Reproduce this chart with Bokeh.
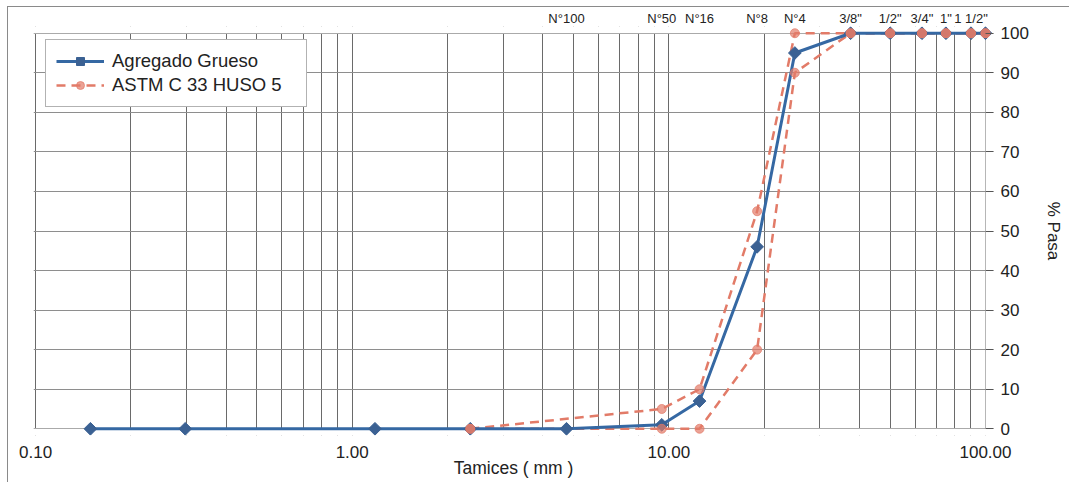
import math
from bokeh.plotting import figure
from bokeh.models import (Range1d, FixedTicker, NumeralTickFormatter, LogAxis,
                          Legend, LegendItem, BoxAnnotation)
from bokeh.embed import file_html
from bokeh.resources import INLINE

# ---- data ----
sieve_mm = [0.149, 0.297, 1.18, 2.36, 4.75, 9.5, 12.5, 19.0, 25.0, 37.5,
            50.0, 63.0, 75.0, 90.0, 100.0]
agregado_pasa = [0, 0, 0, 0, 0, 1, 7, 46, 95, 100, 100, 100, 100, 100, 100]

huso_mm = [2.36, 9.5, 12.5, 19.0, 25.0, 37.5, 50.0, 63.0, 75.0, 90.0, 100.0]
huso_sup = [0, 5, 10, 55, 100, 100, 100, 100, 100, 100, 100]
huso_inf = [0, 0, 0, 20, 90, 100, 100, 100, 100, 100, 100]

top_label_mm = [4.75, 9.5, 12.5, 19.0, 25.0, 37.5, 50.0, 63.0, 75.0, 90.0]
top_labels = ["N°100", "N°50", "N°16", "N°8", "N°4", '3/8"', '1/2"', '3/4"',
              '1"', '1 1/2"']

x_ticks = [0.1, 1, 10, 100]
x_minor = [m * d for d in (0.1, 1, 10) for m in range(2, 10)]
y_ticks = list(range(0, 101, 10))

X_MIN, X_MAX = 0.1, 100
Y_MIN, Y_MAX = 0, 100

FONT = "Liberation Sans"
BLUE = "#3568a3"
BLUE_D = "#3b6193"
RED = "#e27b68"
GRID_V = "#6a6a6a"
GRID_H = "#8e8e8e"
TXT = "#222222"

# small padding of the ranges so that markers on the edges are not cut
p = figure(width=1062, height=476, x_axis_type="log",
           x_range=Range1d(X_MIN * 0.985, X_MAX * 1.06),
           y_range=Range1d(Y_MIN - 1.7, Y_MAX + 1.7),
           y_axis_location="right", output_backend="svg",
           toolbar_location=None,
           min_border_left=25, min_border_top=16, min_border_right=77,
           min_border_bottom=48)
p.margin = (6, 0, 0, 7)
p.styles = {"border-left": "1px solid #8a8a8a", "border-top": "1px solid #8a8a8a"}
p.background_fill_color = "white"
p.border_fill_color = "white"
p.outline_line_color = None

# x axis (bottom)
xt = FixedTicker(ticks=x_ticks, minor_ticks=x_minor)
xax = p.xaxis[0]
xax.ticker = xt
xax.formatter = NumeralTickFormatter(format="0.00")
xax.axis_label = "Tamices ( mm )"
xax.axis_label_text_font = FONT
xax.axis_label_text_font_style = "normal"
xax.axis_label_text_font_size = "17.5px"
xax.axis_label_text_color = TXT
xax.axis_label_standoff = -3
xax.major_label_text_font = FONT
xax.major_label_text_font_size = "17px"
xax.major_label_text_color = TXT
xax.major_label_standoff = 10
xax.axis_line_color = None
xax.major_tick_line_color = None
xax.minor_tick_line_color = None
xax.major_tick_out = 0
xax.minor_tick_out = 0
xax.major_tick_in = 0
xax.minor_tick_in = 0

p.xgrid.ticker = xt
p.xgrid.grid_line_color = GRID_V
p.xgrid.minor_grid_line_color = GRID_V
p.xgrid.grid_line_width = 1
p.xgrid.minor_grid_line_width = 1

# y axis (right)
yt = FixedTicker(ticks=y_ticks)
yax = p.yaxis[0]
yax.ticker = yt
yax.axis_label = "% Pasa"
yax.axis_label_text_font = FONT
yax.axis_label_text_font_style = "normal"
yax.axis_label_text_font_size = "17px"
yax.axis_label_text_color = TXT
yax.axis_label_standoff = 12
yax.major_label_text_font = FONT
yax.major_label_text_font_size = "17px"
yax.major_label_text_color = TXT
yax.major_label_standoff = 7
yax.axis_line_color = None
yax.major_tick_line_color = "#555555"
yax.major_tick_out = 0
yax.major_tick_in = 8
yax.minor_tick_out = 0
yax.minor_tick_in = 0
yax.minor_tick_line_color = None
p.ygrid.ticker = yt
p.ygrid.grid_line_color = GRID_H
p.ygrid.grid_line_width = 1

# white covers outside the 0.1-100 / 0-100 plotting area (under the marks)
for kw in (dict(bottom=Y_MAX), dict(top=Y_MIN), dict(left=X_MAX)):
    p.add_layout(BoxAnnotation(fill_color="white", fill_alpha=1.0,
                               line_color=None, level="underlay", **kw))

# sieve labels on top
top_axis = LogAxis(ticker=FixedTicker(ticks=top_label_mm),
                   major_label_overrides={v: t for v, t in zip(top_label_mm, top_labels)})
top_axis.axis_line_color = None
top_axis.major_tick_line_color = None
top_axis.minor_tick_line_color = None
top_axis.major_tick_out = 0
top_axis.minor_tick_out = 0
top_axis.major_tick_in = 0
top_axis.minor_tick_in = 0
top_axis.major_label_text_font = FONT
top_axis.major_label_text_font_size = "13px"
top_axis.major_label_text_color = TXT
top_axis.major_label_standoff = 1
p.add_layout(top_axis, "above")

# series
r_sup_line = p.line(huso_mm, huso_sup, line_color=RED, line_width=2.5,
                    line_dash="9 6")
r_inf_line = p.line(huso_mm, huso_inf, line_color=RED, line_width=2.5,
                    line_dash="9 6")
r_blue_line = p.line(sieve_mm, agregado_pasa, line_color=BLUE, line_width=3)
r_blue_pts = p.scatter(sieve_mm, agregado_pasa, marker="square", angle=math.pi / 4,
                       size=9, fill_color=BLUE_D, line_color=BLUE_D)
r_sup_pts = p.scatter(huso_mm, huso_sup, marker="circle", size=9,
                      fill_color=RED, line_color=RED, alpha=0.7)
r_inf_pts = p.scatter(huso_mm, huso_inf, marker="circle", size=9,
                      fill_color=RED, line_color=RED, alpha=0.7)

legend = Legend(items=[
    LegendItem(label="Agregado Grueso", renderers=[r_blue_line, r_blue_pts]),
    LegendItem(label="ASTM C 33 HUSO 5", renderers=[r_sup_line, r_sup_pts]),
], location=(12, 328))
legend.padding = 10
legend.spacing = 2
legend.glyph_width = 48
legend.glyph_height = 20
legend.label_height = 20
legend.label_width = 184
legend.label_standoff = 8
legend.label_text_font = FONT
legend.label_text_font_size = "18.5px"
legend.label_text_color = TXT
legend.border_line_color = "#666666"
legend.border_line_width = 1
legend.background_fill_color = "white"
legend.background_fill_alpha = 1.0
p.add_layout(legend)

open("out.html", "w").write(file_html(p, INLINE))
